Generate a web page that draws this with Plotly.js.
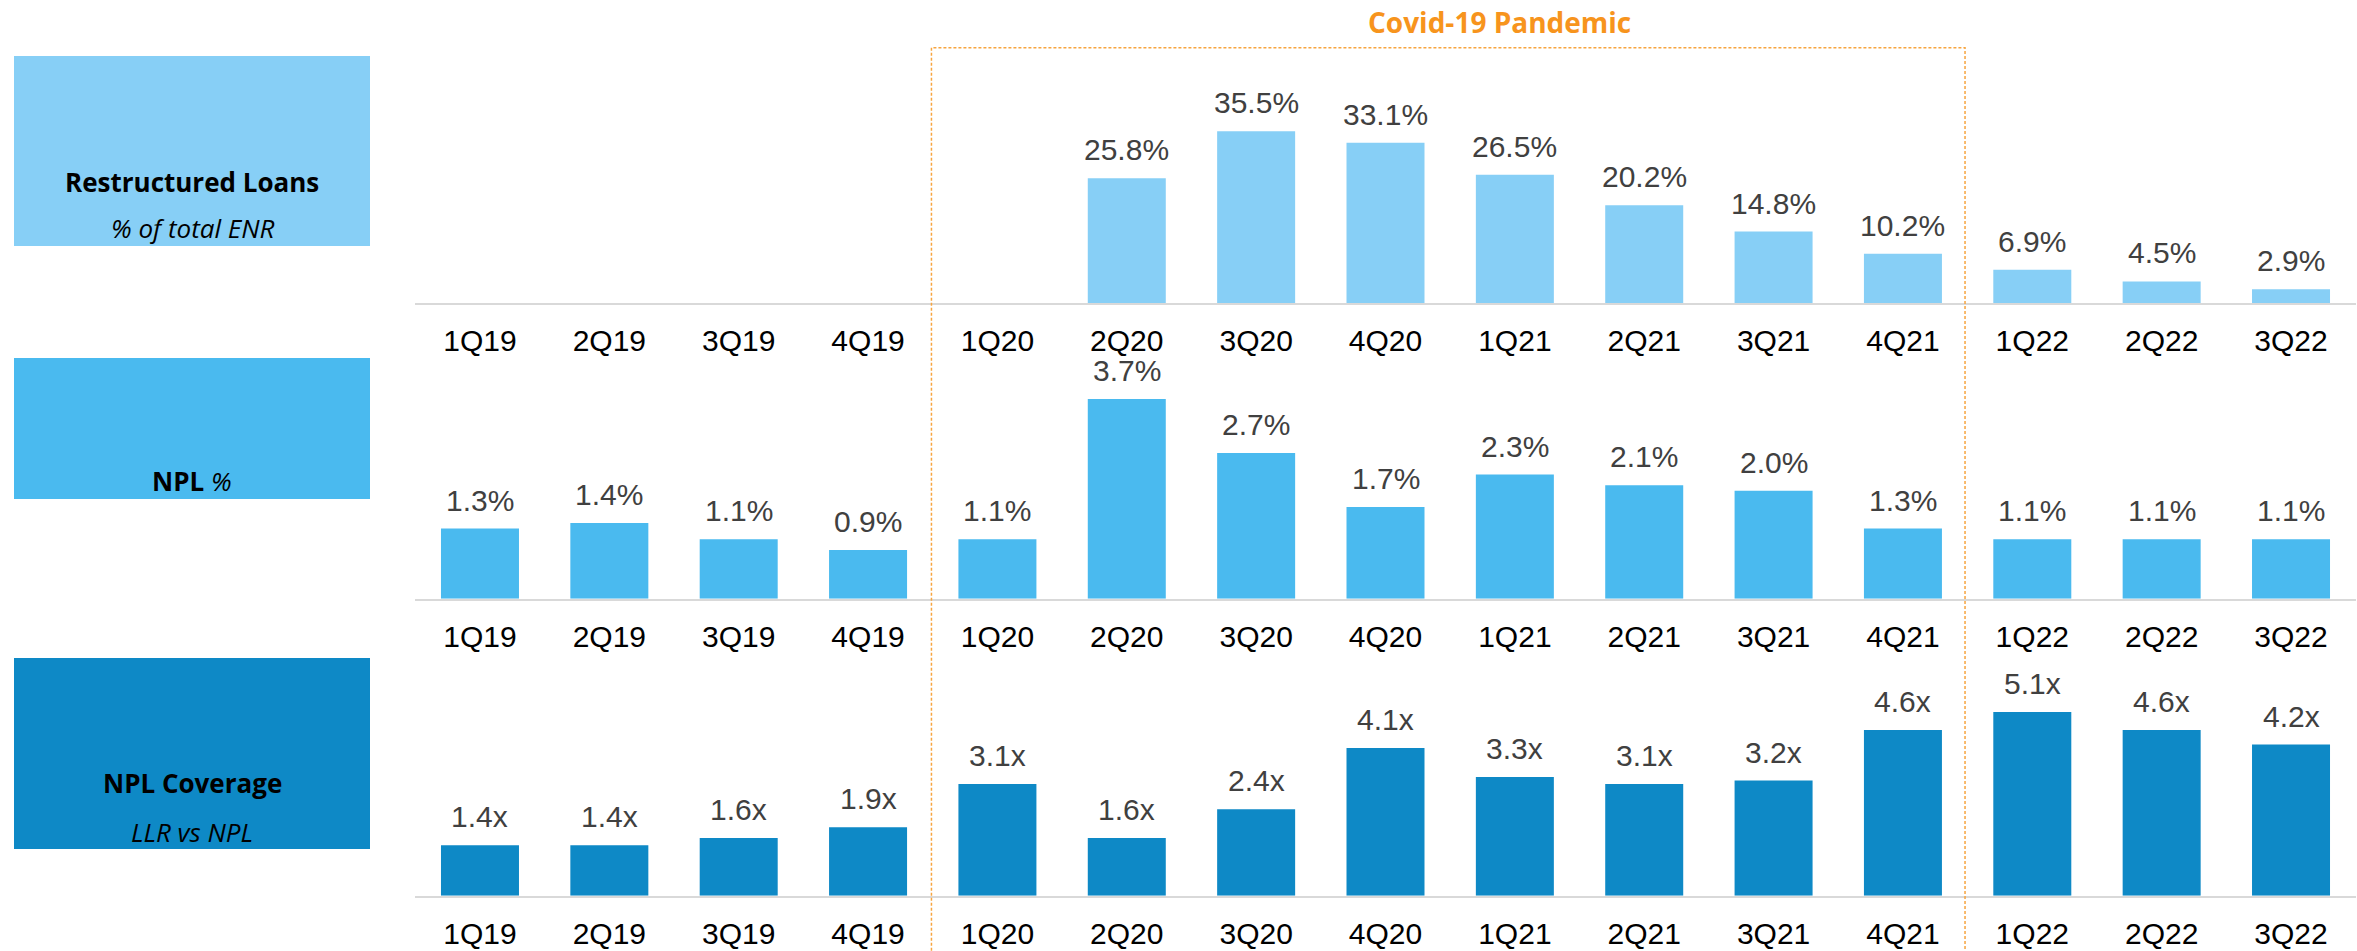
<!DOCTYPE html>
<html>
<head>
<meta charset="utf-8">
<script src="https://cdn.plot.ly/plotly-3.0.1.min.js"></script>
<style>html,body{margin:0;padding:0;background:#fff;}#chart{width:2357px;height:951px;}</style>
</head>
<body>
<div id="chart"></div>
<script>
// ---- Data ----
const quarters = ['1Q19','2Q19','3Q19','4Q19','1Q20','2Q20','3Q20','4Q20','1Q21','2Q21','3Q21','4Q21','1Q22','2Q22','3Q22'];
const restructuredPct = [null,null,null,null,null,25.8,35.5,33.1,26.5,20.2,14.8,10.2,6.9,4.5,2.9];
const nplPct = [1.3,1.4,1.1,0.9,1.1,3.7,2.7,1.7,2.3,2.1,2.0,1.3,1.1,1.1,1.1];
const nplCoverage = [1.4,1.4,1.6,1.9,3.1,1.6,2.4,4.1,3.3,3.1,3.2,4.6,5.1,4.6,4.2];
const panelTitles = ['Restructured Loans','NPL','NPL Coverage'];
const panelSubtitles = ['% of total ENR','%','LLR vs NPL'];
const pandemicLabel = 'Covid-19 Pandemic';

// ---- Styles ----
const W = 2357, H = 951;
const colors = ['#87CFF6','#4ABAEF','#0E89C6'];
const valFont = {family:'Liberation Sans, Arial, sans-serif', size:30, color:'#404040'};
const tickFont = {family:'Liberation Sans, Arial, sans-serif', size:30, color:'#000000'};
const boxFont = 'Open Sans, sans-serif';
const px2y = p => 1 - p / H;
const px2x = p => p / W;

const xDomain = [px2x(415.3), px2x(2355.7)];
const panels = [
  {values: restructuredPct, suffix:'%', range:[0,40],  axisPx:303.3, topPx:109.3, box:[14,56,370,246]},
  {values: nplPct,          suffix:'%', range:[0,4.5], axisPx:598.7, topPx:355.7, box:[14,358,370,499]},
  {values: nplCoverage,     suffix:'x', range:[0,6],   axisPx:895.7, topPx:679.7, box:[14,658,370,849]}
];

const traces = [];
const annotations = [];
const shapes = [];
const layout = {
  width: W, height: H,
  margin: {l:0, r:0, t:0, b:0},
  paper_bgcolor: '#ffffff', plot_bgcolor: 'rgba(0,0,0,0)',
  showlegend: false,
  bargap: 0.397,
  annotations: annotations,
  shapes: shapes
};

panels.forEach((p, i) => {
  const n = i === 0 ? '' : String(i + 1);
  const xa = 'x' + n, ya = 'y' + n;
  traces.push({
    type: 'bar', x: quarters, y: p.values, xaxis: xa, yaxis: ya,
    marker: {color: colors[i], line: {width: 0}},
    hoverinfo: 'skip'
  });
  layout['xaxis' + n] = {
    domain: xDomain, anchor: ya, type: 'category', categoryarray: quarters,
    range: [-0.5, 14.5], showline: true, linecolor: '#D9D9D9', linewidth: 2,
    ticks: '', showgrid: false, zeroline: false, tickfont: tickFont,
    ticklabelstandoff: 10, fixedrange: true
  };
  layout['yaxis' + n] = {
    domain: [px2y(p.axisPx), px2y(p.topPx)], anchor: xa, range: p.range,
    visible: false, showgrid: false, zeroline: false, fixedrange: true
  };
  p.values.forEach((v, k) => {
    if (v === null) return;
    annotations.push({
      xref: xa, yref: ya, x: quarters[k], y: v, text: v.toFixed(1) + p.suffix,
      showarrow: false, yanchor: 'bottom', xanchor: 'center', yshift: 10, font: valFont
    });
  });
  // left label box
  const b = p.box;
  shapes.push({
    type: 'rect', xref: 'paper', yref: 'paper',
    x0: px2x(b[0]), x1: px2x(b[2]), y0: px2y(b[3]), y1: px2y(b[1]),
    fillcolor: colors[i], line: {width: 0}, layer: 'below'
  });
});

function boxText(txt, xp, yp, size, color) {
  annotations.push({xref:'paper', yref:'paper', x:px2x(xp), y:px2y(yp), text:txt, showarrow:false,
    xanchor:'center', yanchor:'middle', font:{family:boxFont, size:size, color:color || '#000'}});
}
boxText('<b>'+panelTitles[0]+'</b>', 192, 182, 26);
boxText('<i>'+panelSubtitles[0]+'</i>', 192, 228, 26);
boxText('<b>'+panelTitles[1]+'</b> <i>'+panelSubtitles[1]+'</i>', 192, 481, 26);
boxText('<b>'+panelTitles[2]+'</b>', 192, 783, 26);
boxText('<i>'+panelSubtitles[2]+'</i>', 192, 832, 26);
boxText('<b>'+pandemicLabel+'</b>', 1500, 22.5, 28, '#F7941D');

// Pandemic dotted frame
shapes.push({
  type:'rect', xref:'x', yref:'paper', x0: 3.49, x1: 11.48, y0: -0.01, y1: px2y(47.7),
  line:{color:'#F7A540', width:1.5, dash:'3px,2px'}, fillcolor:'rgba(0,0,0,0)', layer:'above'
});

Plotly.newPlot('chart', traces, layout, {displayModeBar:false, staticPlot:true});
</script>
</body>
</html>
